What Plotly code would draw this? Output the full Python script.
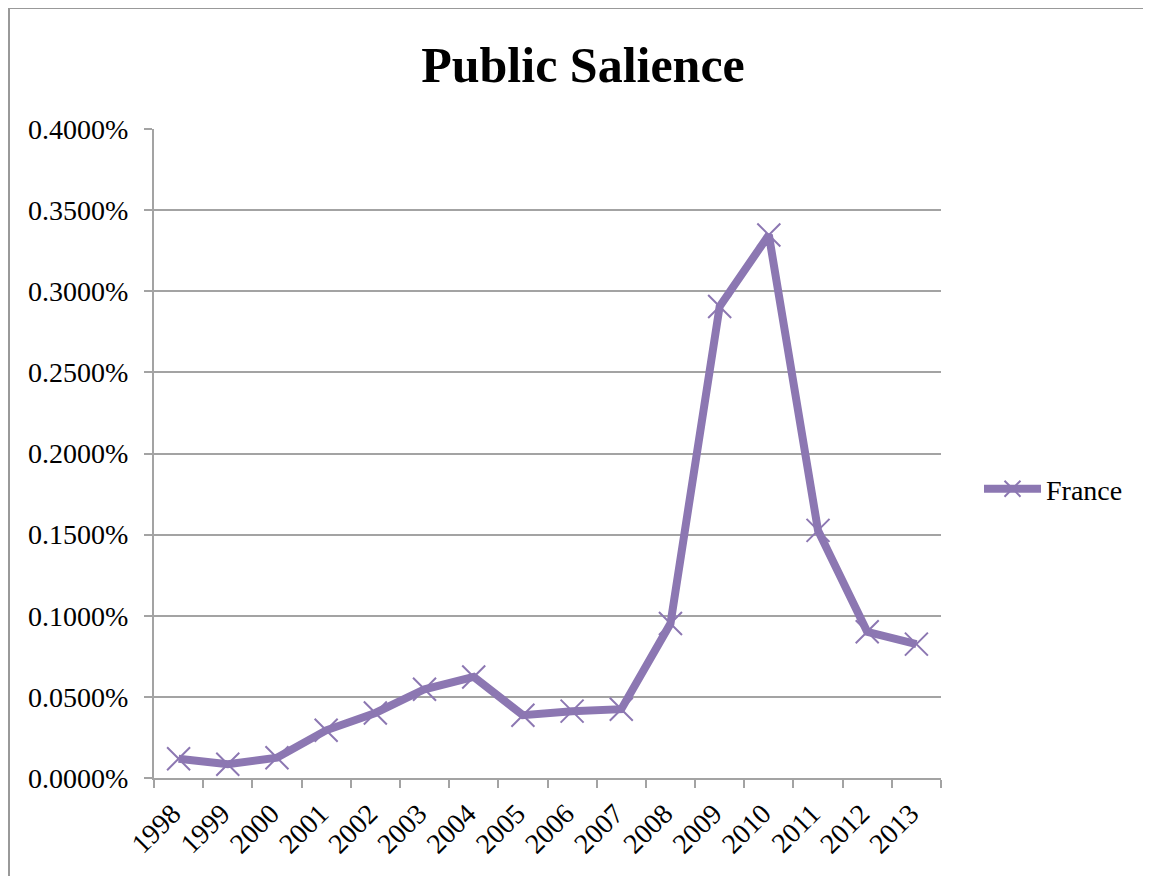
import plotly.graph_objects as go

years = ["1998", "1999", "2000", "2001", "2002", "2003", "2004", "2005",
         "2006", "2007", "2008", "2009", "2010", "2011", "2012", "2013"]
france = [0.000119, 0.000085, 0.000125, 0.000294, 0.000401, 0.000547, 0.000623, 0.000387,
          0.000412, 0.000424, 0.000952, 0.002906, 0.003347, 0.001526, 0.000901, 0.000825]
y_ticks = [0, 0.0005, 0.001, 0.0015, 0.002, 0.0025, 0.003, 0.0035, 0.004]

OFF = 7  # page offset of the figure inside the browser window
W, H = 1151, 876
L, R, T, B = 153 - OFF, 940 - OFF, 128 - OFF, 777 - OFF
purple = "#8c77b2"
grid = "#a3a3a3"
serif = "Liberation Serif"

fig = go.Figure()
fig.add_trace(go.Scatter(
    x=years, y=france, name="France", mode="lines+markers",
    line=dict(color=purple, width=8),
    marker=dict(symbol="x-thin", size=23, line=dict(color=purple, width=2), color=purple),
))

pw, ph = R - L, B - T
def px(x):
    return (x - OFF - L) / pw
def py(y):
    return (B - (y - OFF)) / ph

fig.update_layout(
    width=W, height=H,
    margin=dict(l=L, r=W - R, t=T, b=H - B, pad=0),
    paper_bgcolor="white", plot_bgcolor="white",
    font=dict(family=serif, size=28, color="black"),
    title=dict(text="<b>Public Salience</b>", x=(582 - OFF) / W, xanchor="center",
               y=1 - (63 - OFF) / H, yanchor="middle",
               font=dict(family=serif, size=50, color="black")),
    showlegend=True,
    legend=dict(x=px(978), y=py(488), xanchor="left", yanchor="middle",
                font=dict(family=serif, size=28), itemwidth=57,
                bgcolor="rgba(0,0,0,0)", tracegroupgap=0),
    xaxis=dict(type="category", range=[-0.5, len(years) - 0.5], autorange=False,
               showgrid=False, showline=True, linecolor=grid, linewidth=2,
               ticks="outside", ticklen=8, tickcolor=grid, tickwidth=2,
               tickson="boundaries", tickangle=-45, tickfont=dict(family=serif, size=28),
               ticklabelshift=-6, ticklabelstandoff=6, zeroline=False),
    yaxis=dict(range=[0, 0.004], tickvals=y_ticks, tickformat=".4%", showgrid=True,
               gridcolor=grid, gridwidth=2, showline=True, linecolor=grid, linewidth=2,
               ticks="outside", ticklen=8, tickcolor=grid, tickwidth=2,
               tickfont=dict(family=serif, size=28), zeroline=False,
               ticklabelstandoff=10),
    shapes=[dict(type="rect", xref="paper", yref="paper",
                 x0=px(8), x1=px(1200), y0=py(7), y1=py(930),
                 line=dict(color="#999999", width=2), fillcolor="rgba(0,0,0,0)", layer="below")],
)

fig.write_html("out.html")
